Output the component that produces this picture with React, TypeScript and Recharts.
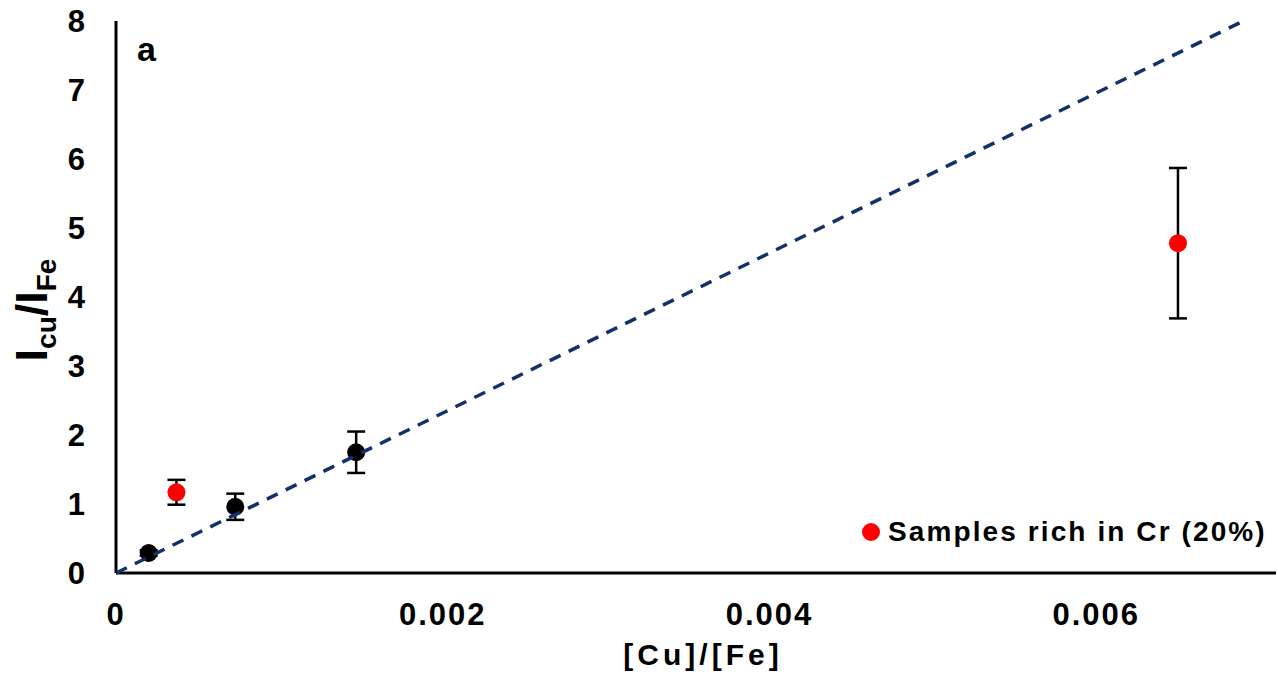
import { ScatterChart, Scatter, XAxis, YAxis, ErrorBar } from 'recharts';

// black samples
const baseX = [0.0002, 0.00073, 0.00147];
const baseY = [0.29, 0.96, 1.75];
const baseErr = [0.04, 0.19, 0.3];

// samples rich in Cr (20%)
const crX = [0.00037, 0.0065];
const crY = [1.17, 4.78];
const crErr = [0.18, 1.09];

// dashed fit line end points
const fitX = [0, 0.0069];
const fitY = [0, 8];

const xTicks = [0, 0.002, 0.004, 0.006];
const yTicks = [0, 1, 2, 3, 4, 5, 6, 7, 8];

const legendLabel = 'Samples rich in Cr (20%)';

const FONT = '"Liberation Sans", Arial, sans-serif';

const baseData = baseX.map((x, i) => ({ x, y: baseY[i], err: baseErr[i] }));
const crData = crX.map((x, i) => ({ x, y: crY[i], err: crErr[i] }));
const fitData = fitX.map((x, i) => ({ x, y: fitY[i] }));

const dot = (color: string) => (props: any) => (
  <circle cx={props.cx} cy={props.cy} r={9} fill={color} />
);

// y tick labels sit ~31px left of the axis line
const renderYTick = (props: any) => (
  <text
    key={props.index}
    x={85}
    y={props.y + 11}
    textAnchor='end'
    fontFamily={FONT}
    fontWeight='bold'
    fontSize={31}
    fill='#000'
  >
    {props.payload.value}
  </text>
);

const YLabel = () => (
  <text
    transform='translate(47, 310) rotate(-90)'
    textAnchor='middle'
    fontFamily={FONT}
    fontWeight='bold'
    fill='#000'
  >
    <tspan fontSize={45}>I</tspan>
    <tspan fontSize={28} dy={9}>cu</tspan>
    <tspan fontSize={45} dy={-9}>/I</tspan>
    <tspan fontSize={28} dy={9}>Fe</tspan>
  </text>
);

const XLabel = () => (
  <text
    x={703}
    y={665}
    textAnchor='middle'
    fontFamily={FONT}
    fontWeight='bold'
    fontSize={30}
    letterSpacing={4}
    fill='#000'
  >
    [Cu]/[Fe]
  </text>
);

export default function App() {
  return (
    <div style={{ position: 'absolute', left: 0, top: 0, background: '#fff' }}>
      <ScatterChart width={1278} height={680} margin={{ top: 21, right: 2, bottom: 0, left: 0 }}>
        <XAxis
          type='number'
          dataKey='x'
          domain={[0, 0.0071]}
          ticks={xTicks}
          tickFormatter={(v) => (v === 0 ? '0' : String(v))}
          axisLine={{ stroke: '#000', strokeWidth: 3 }}
          tickLine={false}
          tickSize={0}
          tickMargin={30}
          height={107}
          tick={{ fontSize: 31, fontWeight: 'bold', fill: '#000', fontFamily: FONT, letterSpacing: 2 }}
          label={<XLabel />}
        />
        <YAxis
          type='number'
          dataKey='y'
          domain={[0, 8]}
          ticks={yTicks}
          axisLine={{ stroke: '#000', strokeWidth: 3 }}
          tickLine={false}
          tickSize={0}
          width={116}
          tick={renderYTick}
          label={<YLabel />}
        />
        <Scatter data={baseData} fill='#000' shape={dot('#000')} isAnimationActive={false}>
          <ErrorBar dataKey='err' direction='y' width={9} stroke='#000' strokeWidth={2.5} />
        </Scatter>
        <Scatter data={crData} fill='#FF0000' shape={dot('#FF0000')} isAnimationActive={false}>
          <ErrorBar dataKey='err' direction='y' width={9} stroke='#000' strokeWidth={2.5} />
        </Scatter>
        <Scatter
          data={fitData}
          shape={() => <g />}
          line={{ stroke: '#12306A', strokeWidth: 3.5, strokeDasharray: '12 9' }}
          isAnimationActive={false}
        />
        <text x={137} y={61} fontFamily={FONT} fontWeight='bold' fontSize={34} fill='#000'>
          a
        </text>
        <g>
          <circle cx={871} cy={532} r={9} fill='#FF0000' />
          <text x={888} y={541} fontFamily={FONT} fontWeight='bold' fontSize={28} letterSpacing={2.1} fill='#000'>
            {legendLabel}
          </text>
        </g>
      </ScatterChart>
    </div>
  );
}
